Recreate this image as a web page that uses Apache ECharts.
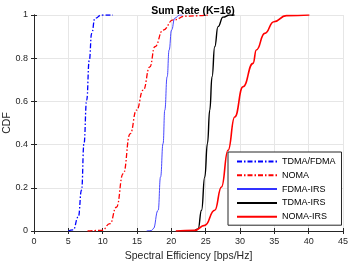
<!DOCTYPE html>
<html>
<head>
<meta charset="utf-8">
<script src="https://cdn.jsdelivr.net/npm/echarts@6/dist/echarts.min.js"></script>
<style>html,body{margin:0;padding:0;background:#fff;}#c{width:349px;height:261px;}</style>
</head>
<body>
<div id="c"></div>
<script>
const xTicks = [0, 5, 10, 15, 20, 25, 30, 35, 40, 45];
const seriesNames = ['TDMA/FDMA', 'NOMA', 'FDMA-IRS', 'TDMA-IRS', 'NOMA-IRS'];

const tdmaFdmaX = [5.0, 5.7, 6.45, 6.93, 7.28, 7.67, 8.05, 8.4, 8.88, 9.85, 11.5];
const tdmaFdmaY = [0, 0.005, 0.065, 0.19, 0.405, 0.606, 0.79, 0.915, 0.985, 1.0, 1.0];

const nomaX = [7.8, 9.9, 11.06, 12.0, 13.0, 14.0, 14.94, 15.9, 16.87, 17.6, 18.8, 20.26, 22.2, 25.3];
const nomaY = [0, 0.003, 0.034, 0.11, 0.266, 0.45, 0.56, 0.652, 0.76, 0.853, 0.93, 0.977, 0.995, 1.0];

const fdmaIrsX = [16.4, 17.1, 17.36, 18.08, 18.43, 18.8, 19.05, 19.39, 19.68, 20.03, 20.5, 21.2, 21.6];
const fdmaIrsY = [0, 0.002, 0.01, 0.096, 0.25, 0.405, 0.56, 0.714, 0.838, 0.93, 0.985, 1.0, 1.0];

const tdmaIrsX = [23.4, 23.9, 24.4, 24.87, 25.26, 25.6, 25.93, 26.32, 26.8, 27.53, 28.5, 29.2];
const tdmaIrsY = [0, 0.01, 0.096, 0.25, 0.405, 0.56, 0.714, 0.853, 0.946, 0.99, 1.0, 1.0];

const nomaIrsX = [20.65, 23.4, 24.87, 26.32, 27.3, 28.26, 29.23, 30.44, 31.9, 32.38, 33.6, 34.95, 36.74, 40.1];
const nomaIrsY = [0, 0.003, 0.026, 0.096, 0.204, 0.374, 0.528, 0.668, 0.776, 0.838, 0.915, 0.969, 0.997, 1.0];

function pairs(xs, ys) { return xs.map((x, i) => [x, ys[i]]); }

const font = 'Liberation Sans, Arial, sans-serif';
const chart = echarts.init(document.getElementById('c'), null, {renderer: 'canvas'});

const axisCommon = {
  axisLine: {show: true, lineStyle: {color: '#262626', width: 1}},
  axisTick: {show: true, inside: true, length: 3, lineStyle: {color: '#262626'}},
};

const dashDot = [5, 2, 1.5, 2];

chart.setOption({
  animation: false,
  backgroundColor: '#fff',
  title: {
    text: 'Sum Rate (K=16)', left: 188, textAlign: 'center', top: 1,
    textStyle: {fontFamily: font, fontSize: 10.5, fontWeight: 'bold', color: '#000'}
  },
  grid: {left: 34, right: 6, top: 15, bottom: 30, containLabel: false, outerBoundsMode: 'none'},
  legend: {
    orient: 'vertical', left: 228, top: 152,
    data: seriesNames,
    itemWidth: 40, itemHeight: 8, itemGap: 4.8,
    padding: [5, 6, 4, 8],
    borderColor: '#262626', borderWidth: 1, backgroundColor: '#fff', borderRadius: 0,
    itemStyle: {opacity: 0},
    textStyle: {fontFamily: font, fontSize: 9, color: '#000', width: 52}
  },
  xAxis: [{
    type: 'value', min: 0, max: 45, interval: 5, position: 'bottom',
    name: 'Spectral Efficiency [bps/Hz]', nameLocation: 'middle', nameGap: 20, nameMoveOverlap: false,
    nameTextStyle: {fontFamily: font, fontSize: 10.5, color: '#262626'},
    axisLabel: {fontFamily: font, fontSize: 9, color: '#262626', margin: 6,
      formatter: v => xTicks.includes(v) ? String(v) : ''},
    splitLine: {show: true, lineStyle: {color: '#e6e6e6', width: 1}},
    ...axisCommon
  }, {
    type: 'value', min: 0, max: 45, interval: 5, position: 'top',
    axisLabel: {show: false}, splitLine: {show: false}, ...axisCommon
  }],
  yAxis: [{
    type: 'value', min: 0, max: 1, interval: 0.2, position: 'left',
    name: 'CDF', nameLocation: 'middle', nameGap: 21.5, nameMoveOverlap: false,
    nameTextStyle: {fontFamily: font, fontSize: 10.5, color: '#262626'},
    axisLabel: {fontFamily: font, fontSize: 9, color: '#262626', margin: 6},
    splitLine: {show: true, lineStyle: {color: '#e6e6e6', width: 1}},
    ...axisCommon
  }, {
    type: 'value', min: 0, max: 1, interval: 0.2, position: 'right',
    axisLabel: {show: false}, splitLine: {show: false}, ...axisCommon
  }],
  series: [
    {name: seriesNames[0], type: 'line', data: pairs(tdmaFdmaX, tdmaFdmaY), showSymbol: false, symbol: 'none',
     smooth: 0.5, smoothMonotone: 'x', lineStyle: {color: '#0000ff', width: 1.3, type: dashDot}, itemStyle: {color: '#0000ff'}},
    {name: seriesNames[1], type: 'line', data: pairs(nomaX, nomaY), showSymbol: false, symbol: 'none',
     smooth: 0.5, smoothMonotone: 'x', lineStyle: {color: '#ff0000', width: 1.3, type: dashDot}, itemStyle: {color: '#ff0000'}},
    {name: seriesNames[2], type: 'line', data: pairs(fdmaIrsX, fdmaIrsY), showSymbol: false, symbol: 'none',
     smooth: 0.5, smoothMonotone: 'x', lineStyle: {color: '#3333ff', width: 0.9}, itemStyle: {color: '#3333ff'}},
    {name: seriesNames[3], type: 'line', data: pairs(tdmaIrsX, tdmaIrsY), showSymbol: false, symbol: 'none',
     smooth: 0.5, smoothMonotone: 'x', lineStyle: {color: '#000000', width: 1.4}, itemStyle: {color: '#000000'}},
    {name: seriesNames[4], type: 'line', data: pairs(nomaIrsX, nomaIrsY), showSymbol: false, symbol: 'none',
     smooth: 0.5, smoothMonotone: 'x', lineStyle: {color: '#ff0000', width: 1.6}, itemStyle: {color: '#ff0000'}}
  ]
});
</script>
</body>
</html>
